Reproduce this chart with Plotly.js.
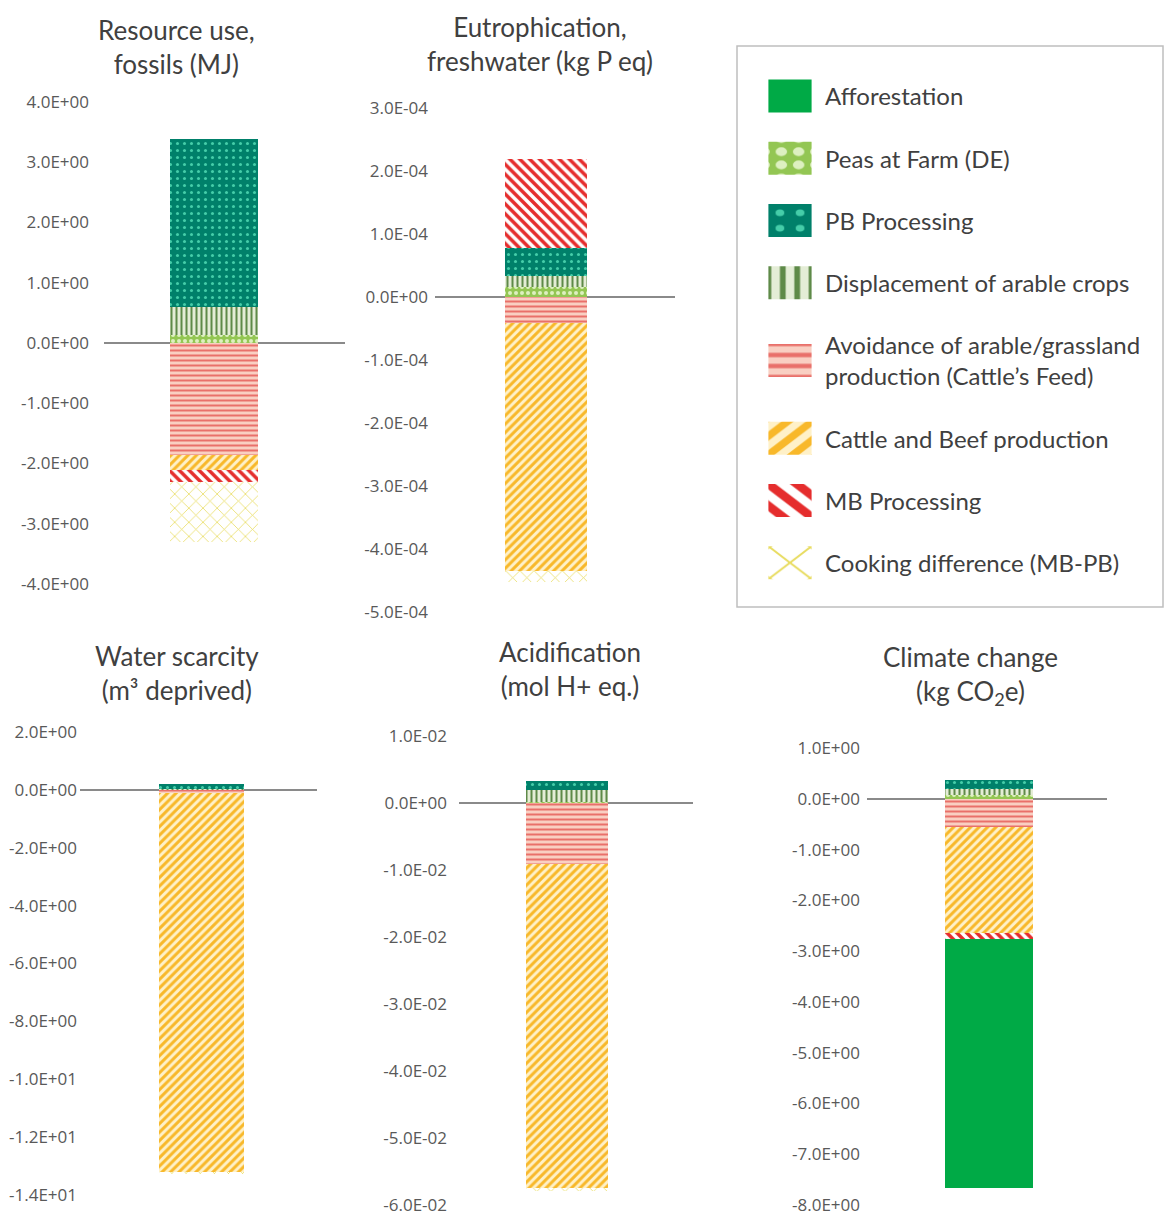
<!DOCTYPE html>
<html>
<head>
<meta charset="utf-8">
<script src="https://cdn.plot.ly/plotly-3.0.1.min.js"></script>
<style>
html, body { margin: 0; padding: 0; background: #ffffff; }
#chart { width: 1164px; height: 1217px; }
</style>
</head>
<body>
<div id="chart"></div>
<script>
// ---------------- DATA ----------------
const impactCategories = [
  "Resource use, fossils",
  "Eutrophication, freshwater",
  "Water scarcity",
  "Acidification",
  "Climate change"
];
const panelTitles = [
  "Resource use,<br>fossils (MJ)",
  "Eutrophication,<br>freshwater (kg P eq)",
  "Water scarcity<br>(m³ deprived)",
  "Acidification<br>(mol H+ eq.)",
  "Climate change<br>(kg CO<sub>2</sub>e)"
];
// values per impact category (same order as impactCategories)
const peasAtFarm        = [0.139,   1.6e-5,   0.01,   1.0e-4,  0.066];
const displacementCrops = [0.454,   1.8e-5,   0.02,   1.9e-3,  0.13];
const pbProcessing      = [2.79,    4.4e-5,   0.19,   1.3e-3,  0.176];
const avoidanceFeed     = [-1.867, -4.1e-5,  -0.10,  -9.1e-3, -0.55];
const cattleBeef        = [-0.249, -3.94e-4, -13.12, -4.84e-2, -2.09];
const mbProcessing      = [-0.184,  1.41e-4,  0,      0,      -0.13];
const cookingDifference = [-1.01,  -1.7e-5,  -0.05,  -4.0e-4,  0];
const afforestation     = [0,       0,        0,      0,      -4.89];

const seriesNames = [
  "Peas at Farm (DE)",
  "Displacement of arable crops",
  "PB Processing",
  "Avoidance of arable/grassland<br>production (Cattle’s Feed)",
  "Cattle and Beef production",
  "MB Processing",
  "Cooking difference (MB-PB)",
  "Afforestation"
];
const seriesValues = [peasAtFarm, displacementCrops, pbProcessing, avoidanceFeed,
                      cattleBeef, mbProcessing, cookingDifference, afforestation];
const legendOrder = [2, 4, 3, 5, 6, 7, 8, 1];

// tick values / labels per panel
const tickValsFossil = [4, 3, 2, 1, 0, -1, -2, -3, -4];
const tickTextFossil = ["4.0E+00","3.0E+00","2.0E+00","1.0E+00","0.0E+00","-1.0E+00","-2.0E+00","-3.0E+00","-4.0E+00"];
const tickValsEutro = [3e-4, 2e-4, 1e-4, 0, -1e-4, -2e-4, -3e-4, -4e-4, -5e-4];
const tickTextEutro = ["3.0E-04","2.0E-04","1.0E-04","0.0E+00","-1.0E-04","-2.0E-04","-3.0E-04","-4.0E-04","-5.0E-04"];
const tickValsWater = [2, 0, -2, -4, -6, -8, -10, -12, -14];
const tickTextWater = ["2.0E+00","0.0E+00","-2.0E+00","-4.0E+00","-6.0E+00","-8.0E+00","-1.0E+01","-1.2E+01","-1.4E+01"];
const tickValsAcid = [0.01, 0, -0.01, -0.02, -0.03, -0.04, -0.05, -0.06];
const tickTextAcid = ["1.0E-02","0.0E+00","-1.0E-02","-2.0E-02","-3.0E-02","-4.0E-02","-5.0E-02","-6.0E-02"];
const tickValsClimate = [1, 0, -1, -2, -3, -4, -5, -6, -7, -8];
const tickTextClimate = ["1.0E+00","0.0E+00","-1.0E+00","-2.0E+00","-3.0E+00","-4.0E+00","-5.0E+00","-6.0E+00","-7.0E+00","-8.0E+00"];

// ---------------- STYLES ----------------
const W = 1164, H = 1217;
const seriesStyle = [
  {shape: ".",  fg: "#DDF0C0", bg: "#93C653", size: 6, solidity: 0.35}, // peas
  {shape: "|",  fg: "#5E8A48", bg: "#E4EDD6", size: 5, solidity: 0.4},  // displacement
  {shape: ".",  fg: "#45CDA9", bg: "#00806A", size: 7, solidity: 0.15}, // PB processing
  {shape: "-",  fg: "#E9706A", bg: "#F9CFC2", size: 5, solidity: 0.4},  // avoidance
  {shape: "/",  fg: "#F8B82A", bg: "#FFF1C8", size: 6, solidity: 0.5},  // cattle
  {shape: "\\", fg: "#E52D2D", bg: "#FFFFFF", size: 7, solidity: 0.5},  // MB processing
  {shape: "x",  fg: "#E8DC60", bg: "#FFFFFF", size: 10, solidity: 0.15},// cooking
  {shape: "",   fg: "#00AA46", bg: "#00AA46", size: 8, solidity: 0.3}   // afforestation
];

// panel geometry in pixels
const panelGeom = [
  {l: 104, r: 345, t: 102, b: 584, c: 214,   w: 88, range: [-4, 4],        tv: tickValsFossil,  tt: tickTextFossil,  standoff: 14},
  {l: 435, r: 675, t: 108, b: 612, c: 546,   w: 82, range: [-5e-4, 3e-4],  tv: tickValsEutro,   tt: tickTextEutro,   standoff: 6},
  {l: 80,  r: 317, t: 732, b: 1195, c: 201.5, w: 85, range: [-14, 2],      tv: tickValsWater,   tt: tickTextWater,   standoff: 2},
  {l: 459, r: 693, t: 736, b: 1205, c: 567,  w: 82, range: [-0.06, 0.01],  tv: tickValsAcid,    tt: tickTextAcid,    standoff: 11},
  {l: 867, r: 1107, t: 748, b: 1205, c: 989, w: 88, range: [-8, 1],        tv: tickValsClimate, tt: tickTextClimate, standoff: 6}
];
const titlePos = [[177, 47], [540, 44], [177, 673], [570, 669], [970, 675]];

// ---------------- TRACES ----------------
const traces = [];
impactCategories.forEach((cat, p) => {
  const g = panelGeom[p];
  const span = g.r - g.l;
  seriesNames.forEach((name, s) => {
    const st = seriesStyle[s];
    traces.push({
      type: "bar",
      name: name,
      x: [cat],
      y: [seriesValues[s][p]],
      width: g.w / span,
      xaxis: p === 0 ? "x" : "x" + (p + 1),
      yaxis: p === 0 ? "y" : "y" + (p + 1),
      legendgroup: "g" + s,
      legendrank: legendOrder[s],
      showlegend: p === 4,
      marker: {
        color: st.shape === "" ? st.fg : st.bg,
        line: {width: 0},
        pattern: st.shape === "" ? {shape: ""} :
          {shape: st.shape, fgcolor: st.fg, bgcolor: st.bg, size: st.size, solidity: st.solidity, fillmode: "replace"}
      },
      hoverinfo: "name+y"
    });
  });
});

// ---------------- LAYOUT ----------------
const layout = {
  width: W, height: H,
  margin: {l: 0, r: 0, t: 0, b: 0},
  paper_bgcolor: "#ffffff",
  plot_bgcolor: "rgba(0,0,0,0)",
  barmode: "relative",
  bargap: 0,
  font: {family: "Open Sans, sans-serif", color: "#595959"},
  showlegend: true,
  legend: {
    x: 755 / W, y: 1 - 74 / H, xanchor: "left", yanchor: "top",
    borderwidth: 0, bgcolor: "rgba(0,0,0,0)",
    font: {family: "Lato, sans-serif", size: 24, color: "#404040"},
    traceorder: "grouped", tracegroupgap: 28, itemwidth: 60,
    itemclick: false, itemdoubleclick: false
  },
  shapes: [{
    type: "rect", xref: "paper", yref: "paper",
    x0: 737 / W, x1: 1163 / W, y0: 1 - 607 / H, y1: 1 - 46 / H,
    line: {color: "#BFBFBF", width: 1.5}, fillcolor: "rgba(0,0,0,0)", layer: "below"
  }],
  annotations: panelTitles.map((t, i) => ({
    text: t, xref: "paper", yref: "paper",
    x: titlePos[i][0] / W, y: 1 - titlePos[i][1] / H,
    xanchor: "center", yanchor: "middle", showarrow: false,
    font: {family: "Lato, sans-serif", size: 26, color: "#404040"}
  }))
};

const PAD = 4; // px of breathing room so end ticks are drawn
panelGeom.forEach((g, p) => {
  const span = g.r - g.l;
  const r0 = -(g.c - g.l) / span;
  const ppu = (g.b - g.t) / (g.range[1] - g.range[0]);
  const xa = p === 0 ? "xaxis" : "xaxis" + (p + 1);
  const ya = p === 0 ? "yaxis" : "yaxis" + (p + 1);
  const xid = p === 0 ? "x" : "x" + (p + 1);
  const yid = p === 0 ? "y" : "y" + (p + 1);
  layout[xa] = {
    domain: [g.l / W, g.r / W], anchor: yid, type: "category",
    range: [r0, r0 + 1], visible: false, fixedrange: true
  };
  layout[ya] = {
    domain: [1 - (g.b + PAD) / H, 1 - (g.t - PAD) / H], anchor: xid,
    range: [g.range[0] - PAD / ppu, g.range[1] + PAD / ppu],
    tickmode: "array", tickvals: g.tv, ticktext: g.tt,
    showgrid: false, showline: false, ticks: "",
    zeroline: true, zerolinecolor: "#8A8A8A", zerolinewidth: 2,
    ticklabelstandoff: g.standoff, ticklabeloverflow: "allow",
    tickfont: {family: "Open Sans, sans-serif", size: 17, color: "#595959"},
    fixedrange: true
  };
});

Plotly.newPlot("chart", traces, layout, {staticPlot: true, displayModeBar: false}).then(() => {
  // enlarge legend swatches (keep Plotly's own translate, append a scale)
  document.querySelectorAll("#chart .legend .legendpoints path").forEach(p => {
    const t = p.getAttribute("transform") || "";
    p.setAttribute("transform", t + " scale(3.6,2.75)");
  });
});
</script>
</body>
</html>
